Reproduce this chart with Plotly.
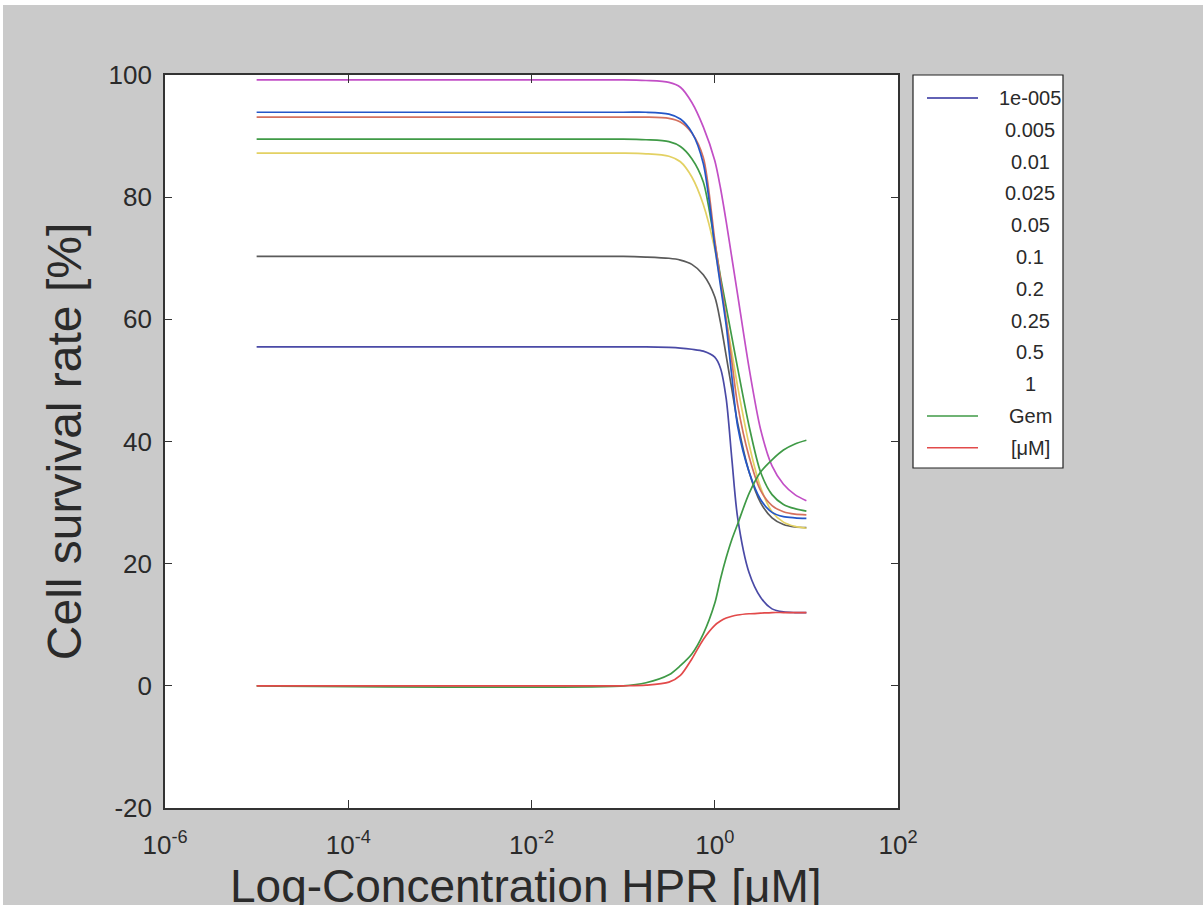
import plotly.graph_objects as go

# ---------------- data ----------------
log_conc = [-5, -1, -0.75, -0.5, -0.375, -0.25, -0.125, 0, 0.0625, 0.125,
            0.1875, 0.25, 0.375, 0.5, 0.625, 0.75, 0.875, 1]
conc = [10 ** v for v in log_conc]

surv_magenta = [99.2, 99.2, 99.1, 98.8, 98.0, 95.5, 91.5, 86.0, 81.5, 76.0,
                70.0, 64.0, 52.0, 42.0, 36.0, 33.0, 31.3, 30.3]
surv_blue = [93.9, 93.9, 93.9, 93.6, 92.8, 90.6, 85.5, 72.0, 65.5, 59.0,
             50.5, 42.5, 35.0, 30.5, 28.4, 27.7, 27.5, 27.4]
surv_salmon = [93.1, 93.1, 93.1, 92.9, 92.3, 90.5, 86.5, 73.0, 66.5, 60.0,
               53.0, 46.0, 37.5, 32.0, 29.5, 28.5, 28.1, 28.0]
surv_green = [89.5, 89.5, 89.4, 89.1, 88.3, 86.3, 82.5, 72.5, 67.0, 62.0,
              57.0, 52.0, 42.5, 35.0, 31.3, 29.7, 29.0, 28.6]
surv_yellow = [87.2, 87.2, 87.1, 86.7, 85.8, 83.3, 78.8, 71.5, 66.0, 60.0,
               54.5, 49.0, 39.5, 32.5, 28.5, 26.8, 26.1, 25.8]
surv_gray = [70.3, 70.3, 70.2, 70.0, 69.7, 69.0, 67.3, 63.7, 59.5, 54.0,
             48.5, 43.0, 35.0, 30.0, 27.5, 26.4, 26.0, 25.9]
surv_violet = [55.5, 55.5, 55.5, 55.4, 55.3, 55.1, 54.8, 53.8, 52.0, 47.0,
               37.0, 27.5, 18.5, 14.5, 12.6, 12.1, 12.0, 12.0]
surv_gem = [0.0, 0.0, 0.5, 1.8, 3.3, 5.2, 8.5, 13.5, 17.5, 21.0,
            24.0, 26.5, 31.5, 35.0, 37.0, 38.6, 39.6, 40.2]
surv_red = [0.0, 0.0, 0.1, 0.6, 1.7, 4.4, 7.6, 9.9, 10.6, 11.1,
            11.4, 11.6, 11.8, 11.9, 12.0, 12.0, 12.0, 12.0]

series_values = [surv_gray, surv_yellow, surv_green, surv_salmon, surv_blue,
                 surv_violet, surv_magenta, surv_gem, surv_red]
series_colors = ["#5a5a5a", "#e3d163", "#3f9a46", "#d4705e", "#2457c8",
                 "#4a4aa6", "#c24fc6", "#3f9a46", "#e24a4a"]

legend_labels = ["1e-005", "0.005", "0.01", "0.025", "0.05", "0.1", "0.2",
                 "0.25", "0.5", "1", "Gem", "[μM]"]
legend_line_colors = ["#2e2e9c", None, None, None, None, None, None, None,
                      None, None, "#3f9a46", "#e24a4a"]

y_ticks = [-20, 0, 20, 40, 60, 80, 100]
x_tick_exps = [-6, -4, -2, 0, 2]
x_title = "Log-Concentration HPR [μM]"
y_title = "Cell survival rate [%]"

# ---------------- layout geometry ----------------
W, H = 1203, 905
L, R, T, B = 165, 305, 75, 97
PW, PH = W - L - R, H - T - B


def px(xp):
    return (xp - L) / PW


def py(yp):
    return (H - B - yp) / PH


FONT = "Liberation Sans, Arial, sans-serif"
TXT = "#2a2a2a"
AX = "#333333"

fig = go.Figure()
for vals, col in zip(series_values, series_colors):
    fig.add_trace(go.Scatter(x=conc, y=vals, mode="lines",
                             line=dict(color=col, width=1.7, shape="spline",
                                       smoothing=0.8),
                             showlegend=False, hoverinfo="skip"))

fig.update_layout(
    width=W, height=H,
    margin=dict(l=L, r=R, t=T, b=B, autoexpand=False),
    paper_bgcolor="#cacaca",
    plot_bgcolor="white",
    showlegend=False,
    font=dict(family=FONT, color=TXT),
)

fig.update_xaxes(
    type="log", range=[-6, 2],
    tickvals=[10 ** e for e in x_tick_exps],
    ticktext=["10<sup>%d</sup>" % e for e in x_tick_exps],
    tickfont=dict(size=26, color=TXT),
    ticks="inside", ticklen=8, tickcolor=AX, tickwidth=1.2,
    ticklabelstandoff=13,
    showline=True, linecolor=AX, linewidth=1.6, mirror="allticks",
    showgrid=False, zeroline=False,
    automargin=False,
)
fig.update_yaxes(
    range=[-20, 100],
    tickvals=y_ticks, ticktext=[str(v) for v in y_ticks],
    tickfont=dict(size=26, color=TXT),
    ticks="inside", ticklen=7, tickcolor=AX, tickwidth=1.2,
    ticklabelstandoff=6,
    showline=True, linecolor=AX, linewidth=1.6, mirror="allticks",
    showgrid=False, zeroline=False,
    title=dict(text=y_title, font=dict(size=48, color=TXT), standoff=12),
    automargin=False,
)

shapes = []
# white strips at top/left edge of the picture
shapes.append(dict(type="rect", xref="paper", yref="paper",
                   x0=px(0), x1=px(W), y0=py(5), y1=py(0),
                   fillcolor="white", line=dict(width=0), layer="above"))
shapes.append(dict(type="rect", xref="paper", yref="paper",
                   x0=px(0), x1=px(3), y0=py(H), y1=py(0),
                   fillcolor="white", line=dict(width=0), layer="above"))
# legend box
shapes.append(dict(type="rect", xref="paper", yref="paper",
                   x0=px(913), x1=px(1063), y0=py(468), y1=py(75),
                   fillcolor="white", line=dict(color="#222222", width=1.2),
                   layer="above"))
annotations = []
for i, (lab, col) in enumerate(zip(legend_labels, legend_line_colors)):
    yrow = 98 + 31.8 * i
    if col is not None:
        shapes.append(dict(type="line", xref="paper", yref="paper",
                           x0=px(927), x1=px(978), y0=py(yrow), y1=py(yrow),
                           line=dict(color=col, width=1.6), layer="above"))
    annotations.append(dict(text=lab, xref="paper", yref="paper",
                            x=px(1030), y=py(yrow), xanchor="center",
                            yanchor="middle", showarrow=False,
                            font=dict(size=20, color=TXT, family=FONT)))
# x-axis title (sits at the bottom edge, as in the reference)
annotations.append(dict(text=x_title, xref="paper", yref="paper",
                        x=px(526), y=py(886), xanchor="center",
                        yanchor="middle", showarrow=False,
                        font=dict(size=46, color=TXT, family=FONT)))
fig.update_layout(shapes=shapes, annotations=annotations)

fig.write_html("out.html",
               config={"displayModeBar": False},
               post_script="document.body.style.margin='0';"
                           "document.body.style.overflow='hidden';")
